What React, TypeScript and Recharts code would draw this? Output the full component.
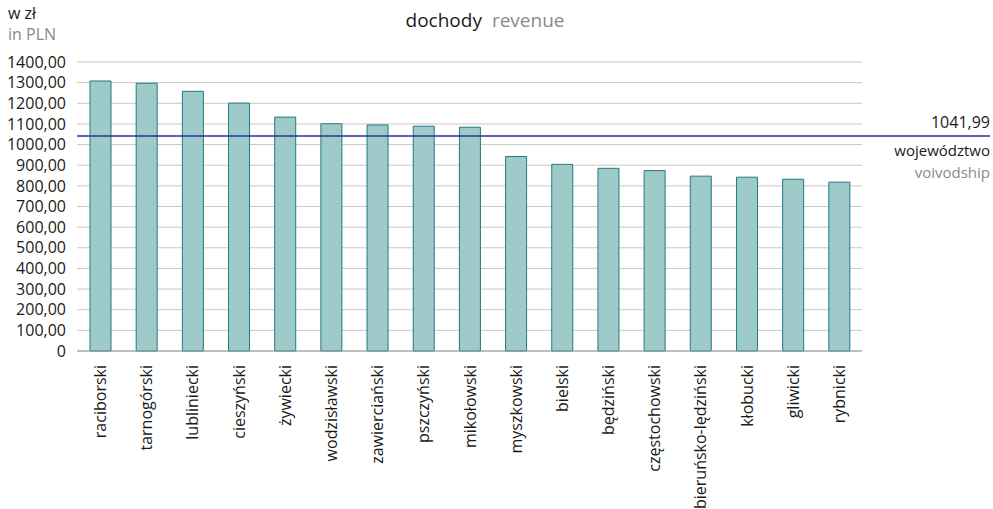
import React from 'react';
import {
  BarChart,
  Bar,
  XAxis,
  YAxis,
  CartesianGrid,
  ReferenceLine,
} from 'recharts';

const districts = [
  'raciborski',
  'tarnogórski',
  'lubliniecki',
  'cieszyński',
  'żywiecki',
  'wodzisławski',
  'zawierciański',
  'pszczyński',
  'mikołowski',
  'myszkowski',
  'bielski',
  'będziński',
  'częstochowski',
  'bieruńsko-lędziński',
  'kłobucki',
  'gliwicki',
  'rybnicki',
];

const revenue = [1308, 1297, 1258, 1201, 1133, 1101, 1095, 1089, 1084, 942, 904, 885, 874, 847, 842, 832, 818];

const yTicks = [0, 100, 200, 300, 400, 500, 600, 700, 800, 900, 1000, 1100, 1200, 1300, 1400];

const voivodshipAvg = 1041.99;

const FONT = '"Open Sans", "Noto Sans", sans-serif';

const data = districts.map((name, i) => ({ name, revenue: revenue[i] }));

const formatTick = (v: number) => (v === 0 ? '0' : v.toFixed(2).replace('.', ','));

const XTick = ({ x, y, payload }: any) => (
  <text
    x={x + 6}
    y={y + 6}
    transform={`rotate(-90, ${x + 6}, ${y + 6})`}
    textAnchor="end"
    fontSize={16}
    fontFamily={FONT}
    fill="#1a1a1a"
  >
    {payload.value}
  </text>
);

// voivodship average: drawn past the plot edge up to the labels on the right
const AvgLine = (props: any) => {
  const { x1, y1, y2 } = props;
  const endX = 990;
  return (
    <g>
      <line x1={x1} y1={y1} x2={endX} y2={y2} stroke="#2e2e96" strokeWidth={1.5} />
      <text x={endX} y={y1 - 8} textAnchor="end" fontSize={16} fontFamily={FONT} fill="#1a1a1a">
        {voivodshipAvg.toFixed(2).replace('.', ',')}
      </text>
      <text x={endX} y={y1 + 20} textAnchor="end" fontSize={15} fontFamily={FONT} fill="#1a1a1a">
        województwo
      </text>
      <text x={endX} y={y1 + 42} textAnchor="end" fontSize={15} fontFamily={FONT} fill="#8a8a8a">
        voivodship
      </text>
    </g>
  );
};

export default function App() {
  return (
    <div style={{ position: 'absolute', left: 0, top: 0, width: 993, height: 509, fontFamily: FONT }}>
      <div style={{ position: 'absolute', left: 8, top: 3, fontSize: 16, lineHeight: '21px' }}>
        <div style={{ color: '#1a1a1a' }}>w zł</div>
        <div style={{ color: '#8a8a8a' }}>in PLN</div>
      </div>
      <div style={{ position: 'absolute', left: 0, width: 970, top: 7, textAlign: 'center', fontSize: 19 }}>
        <span style={{ color: '#1a1a1a' }}>dochody</span>
        <span style={{ color: '#8a8a8a', marginLeft: 10 }}>revenue</span>
      </div>
      <BarChart
        width={993}
        height={509}
        data={data}
        margin={{ top: 62, right: 131, left: 0, bottom: 0 }}
        barSize={21}
      >
        <CartesianGrid vertical={false} stroke="#c8c8c8" />
        <XAxis
          dataKey="name"
          interval={0}
          height={158}
          tickLine={false}
          axisLine={{ stroke: '#9a9a9a' }}
          tick={<XTick />}
        />
        <YAxis
          width={77}
          domain={[0, 1400]}
          ticks={yTicks}
          interval={0}
          axisLine={false}
          tickLine={false}
          tickFormatter={formatTick}
          tick={{ fontSize: 16, fill: '#1a1a1a', fontFamily: FONT }}
          tickMargin={5}
        />
        <Bar
          dataKey="revenue"
          fill="#9fcaca"
          stroke="#1e7b80"
          strokeWidth={1}
          isAnimationActive={false}
        />
        <ReferenceLine y={voivodshipAvg} ifOverflow="visible" shape={<AvgLine />} />
      </BarChart>
    </div>
  );
}
